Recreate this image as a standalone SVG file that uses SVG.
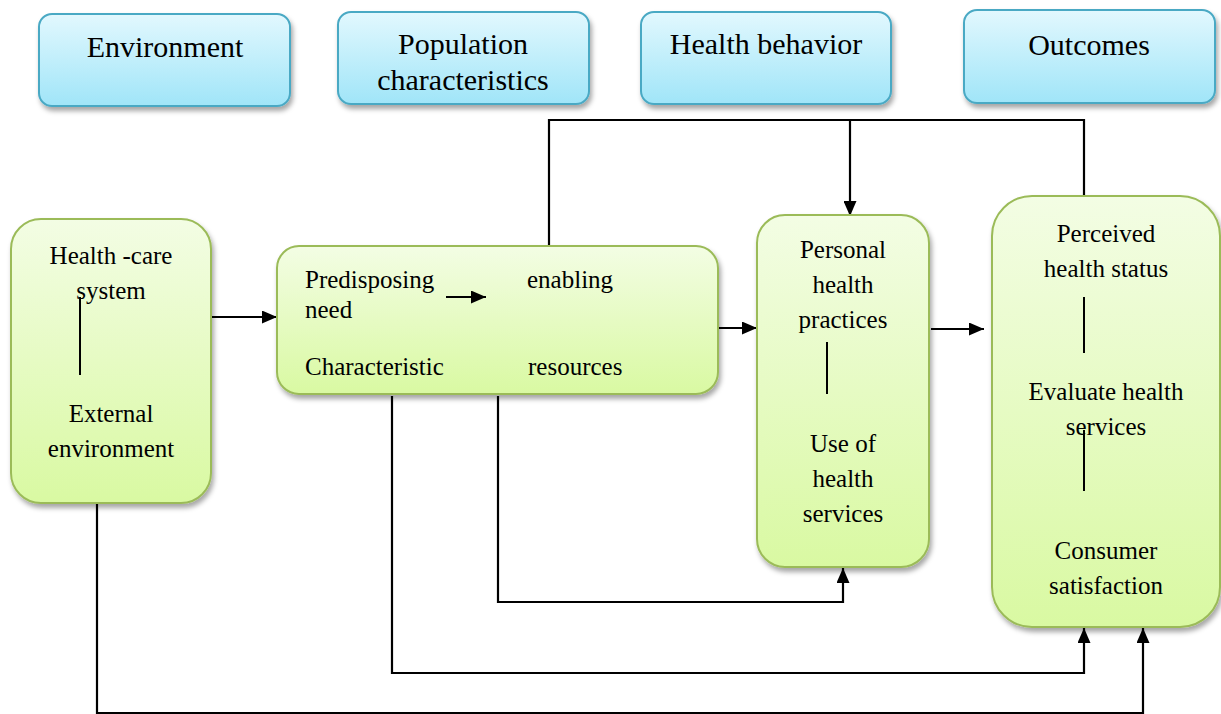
<svg xmlns="http://www.w3.org/2000/svg" width="1221" height="714" viewBox="0 0 1221 714" font-family="Liberation Serif, Times New Roman, DejaVu Serif, serif">
<defs>
<linearGradient id="gBlue" x1="0" y1="0" x2="0" y2="1">
<stop offset="0" stop-color="#e2f8fe"/>
<stop offset="1" stop-color="#a0e5f8"/>
</linearGradient>
<linearGradient id="gGreen" x1="0" y1="0" x2="0" y2="1">
<stop offset="0" stop-color="#f3fde4"/>
<stop offset="1" stop-color="#d9f9a2"/>
</linearGradient>
<filter id="sh" x="-10%" y="-10%" width="130%" height="130%">
<feDropShadow dx="2" dy="4" stdDeviation="2.5" flood-color="#000" flood-opacity="0.35"/>
</filter>
<marker id="ah" viewBox="0 0 10 10" refX="10" refY="5" markerWidth="15" markerHeight="13" markerUnits="userSpaceOnUse" orient="auto" preserveAspectRatio="none">
<path d="M0,0 L10,5 L0,10 z" fill="#000"/>
</marker>
<clipPath id="clipPop"><rect x="338" y="12" width="252" height="79"/></clipPath>
<style>
.hbox{fill:url(#gBlue);stroke:#4aa9c4;stroke-width:2;filter:url(#sh)}
.gbox{fill:url(#gGreen);stroke:#9bbb59;stroke-width:2;filter:url(#sh)}
text{font-family:"Liberation Serif","Times New Roman","DejaVu Serif",serif}
.ht{font-size:30px;fill:#000;text-anchor:middle}
.t{font-size:25px;fill:#000}
.c{text-anchor:middle}
.ln{stroke:#000;stroke-width:2;fill:none}
.conn{stroke:#000;stroke-width:2.2;fill:none}
</style>
</defs>

<g id="hdr-environment">
<rect class="hbox" x="39" y="14" width="251" height="92" rx="13"/>
<text class="ht" x="165" y="57">Environment</text>
</g>
<g id="hdr-population">
<rect class="hbox" x="338" y="12" width="251" height="92" rx="13"/>
<g clip-path="url(#clipPop)">
<text class="ht" x="463" y="54">Population</text>
<text class="ht" x="463" y="90">characteristics</text>
</g>
</g>
<g id="hdr-behavior">
<rect class="hbox" x="641" y="12" width="250" height="92" rx="13"/>
<text class="ht" x="766" y="54">Health behavior</text>
</g>
<g id="hdr-outcomes">
<rect class="hbox" x="964" y="10" width="251" height="93" rx="13"/>
<text class="ht" x="1089" y="55">Outcomes</text>
</g>

<g id="connectors">
<path class="conn" d="M212,317 H277" marker-end="url(#ah)"/>
<path class="conn" d="M719,328 H757" marker-end="url(#ah)"/>
<path class="conn" d="M931,329 H984" marker-end="url(#ah)"/>
<path class="conn" d="M549,246 V120 H1084 V196"/>
<path class="conn" d="M850,120 V216" marker-end="url(#ah)"/>
<path class="conn" d="M498,396 V602 H843 V568" marker-end="url(#ah)"/>
<path class="conn" d="M392,396 V673 H1084 V628" marker-end="url(#ah)"/>
<path class="conn" d="M97,504 V713 H1143 V628" marker-end="url(#ah)"/>
</g>

<g id="node-environment">
<rect class="gbox" x="11" y="219" width="200" height="284" rx="30"/>
<text class="t c" x="111" y="264">Health -care</text>
<text class="t c" x="111" y="299">system</text>
<line class="ln" x1="80" y1="297" x2="80" y2="375"/>
<text class="t c" x="111" y="422">External</text>
<text class="t c" x="111" y="457">environment</text>
</g>

<g id="node-population">
<rect class="gbox" x="277" y="246" width="441" height="148" rx="22"/>
<text class="t" x="305" y="288">Predisposing</text>
<text class="t" x="305" y="318">need</text>
<text class="t" x="527" y="288">enabling</text>
<text class="t" x="305" y="375">Characteristic</text>
<text class="t" x="528" y="375">resources</text>
<path class="conn" d="M446,297 H486" marker-end="url(#ah)"/>
</g>

<g id="node-behavior">
<rect class="gbox" x="757" y="215" width="172" height="352" rx="28"/>
<text class="t c" x="843" y="258">Personal</text>
<text class="t c" x="843" y="293">health</text>
<text class="t c" x="843" y="328">practices</text>
<line class="ln" x1="827" y1="342" x2="827" y2="394"/>
<text class="t c" x="843" y="452">Use of</text>
<text class="t c" x="843" y="487">health</text>
<text class="t c" x="843" y="522">services</text>
</g>

<g id="node-outcomes">
<rect class="gbox" x="992" y="196" width="228" height="431" rx="40"/>
<text class="t c" x="1106" y="242">Perceived</text>
<text class="t c" x="1106" y="277">health status</text>
<line class="ln" x1="1084" y1="297" x2="1084" y2="353"/>
<text class="t c" x="1106" y="400">Evaluate health</text>
<text class="t c" x="1106" y="435">services</text>
<line class="ln" x1="1084" y1="430" x2="1084" y2="491"/>
<text class="t c" x="1106" y="559">Consumer</text>
<text class="t c" x="1106" y="594">satisfaction</text>
</g>
</svg>
